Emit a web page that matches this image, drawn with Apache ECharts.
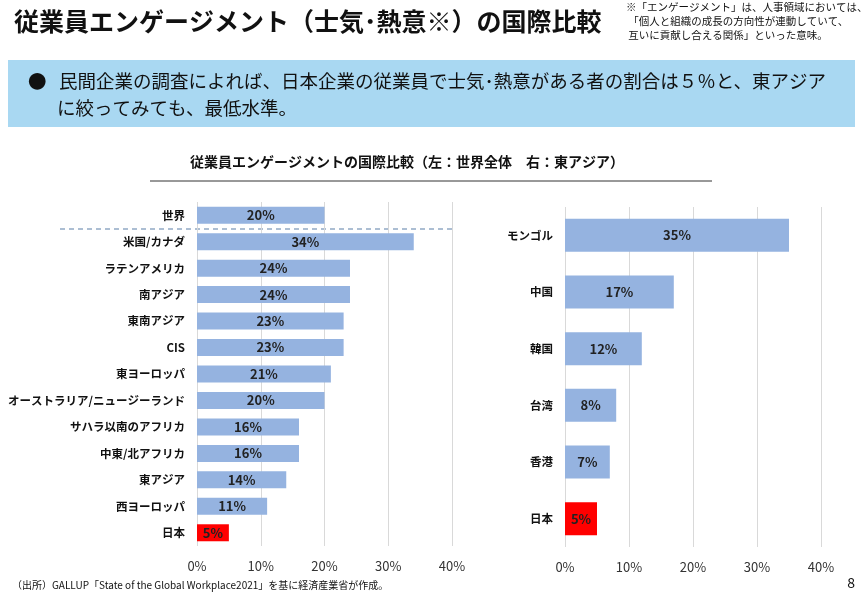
<!DOCTYPE html>
<html><head><meta charset="utf-8">
<script src="https://cdn.jsdelivr.net/npm/echarts@6/dist/echarts.min.js"></script>
<style>body{margin:0;background:#fff}#c{width:861px;height:596px}</style>
</head><body><div id="c"></div>
<script>
const FONT = '"Noto Sans CJK JP", sans-serif';
const worldNames = ['世界','米国/カナダ','ラテンアメリカ','南アジア','東南アジア','CIS','東ヨーロッパ','オーストラリア/ニュージーランド','サハラ以南のアフリカ','中東/北アフリカ','東アジア','西ヨーロッパ','日本'];
const worldVals = [20,34,24,24,23,23,21,20,16,16,14,11,5];
const eastNames = ['モンゴル','中国','韓国','台湾','香港','日本'];
const eastVals = [35,17,12,8,7,5];
const BLUE = '#95b3e0';
function items(names, vals) {
  return vals.map(function (v, i) {
    return { value: v, itemStyle: { color: names[i] === '日本' ? '#ff0000' : BLUE } };
  });
}
const chart = echarts.init(document.getElementById('c'));
const xAxisBase = {
  type: 'value', min: 0, max: 40, interval: 10,
  axisLabel: { formatter: '{value}%', color: '#333', fontSize: 13, fontFamily: FONT, margin: 14 },
  axisLine: { show: false }, axisTick: { show: false },
  splitLine: { lineStyle: { color: '#d9d9d9' } }
};
const yAxisBase = {
  type: 'category', inverse: true,
  axisLine: { show: false }, axisTick: { show: false },
  axisLabel: { color: '#111', fontWeight: 'bold', fontSize: 11.5, fontFamily: FONT, margin: 12 }
};
const labelStyle = { show: true, position: 'inside', formatter: '{c}%', color: '#222', fontWeight: 'bold', fontSize: 13, fontFamily: FONT };
chart.setOption({
  animation: false,
  grid: [
    { left: 197, width: 255, top: 202, height: 344 },
    { left: 565, width: 256, top: 207, height: 340 }
  ],
  xAxis: [Object.assign({ gridIndex: 0 }, xAxisBase), Object.assign({ gridIndex: 1 }, xAxisBase)],
  yAxis: [
    Object.assign({ gridIndex: 0, data: worldNames }, yAxisBase),
    Object.assign({ gridIndex: 1, data: eastNames }, yAxisBase)
  ],
  series: [
    { type: 'bar', xAxisIndex: 0, yAxisIndex: 0, barWidth: 17, data: items(worldNames, worldVals), label: labelStyle },
    { type: 'bar', xAxisIndex: 1, yAxisIndex: 1, barWidth: 33, data: items(eastNames, eastVals), label: labelStyle }
  ],
  graphic: [
    { type: 'text', left: 14, top: 9, style: { text: '従業員エンゲージメント（士気･熱意※）の国際比較', font: 'bold 25px ' + FONT, fill: '#111' } },
    { type: 'text', left: 626, top: 0, style: { text: '※「エンゲージメント」は、人事領域においては、\n 「個人と組織の成長の方向性が連動していて、\n 互いに貢献し合える関係」といった意味。', font: '10.5px ' + FONT, fill: '#111', lineHeight: 14 } },
    { type: 'rect', shape: { x: 8, y: 60, width: 847, height: 67 }, style: { fill: '#a9d8f2' } },
    { type: 'text', left: 28, top: 67, style: { text: '●   民間企業の調査によれば、日本企業の従業員で士気･熱意がある者の割合は５％と、東アジア\n       に絞ってみても、最低水準。', font: '18.5px ' + FONT, fill: '#111', lineHeight: 27 } },
    { type: 'text', left: 190, top: 155, style: { text: '従業員エンゲージメントの国際比較（左：世界全体　右：東アジア）', font: 'bold 14px ' + FONT, fill: '#111' } },
    { type: 'line', shape: { x1: 150, y1: 181, x2: 712, y2: 181 }, style: { stroke: '#333', lineWidth: 1 } },
    { type: 'line', shape: { x1: 60, y1: 229, x2: 456, y2: 229 }, style: { stroke: '#5b7fa8', lineWidth: 1.2, lineDash: [5, 4] } },
    { type: 'text', left: 12, top: 580, style: { text: '（出所）GALLUP「State of the Global Workplace2021」を基に経済産業省が作成。', font: '10px ' + FONT, fill: '#111' } },
    { type: 'text', right: 6, top: 576, style: { text: '8', font: '14px ' + FONT, fill: '#111' } }
  ]
});
</script></body></html>
